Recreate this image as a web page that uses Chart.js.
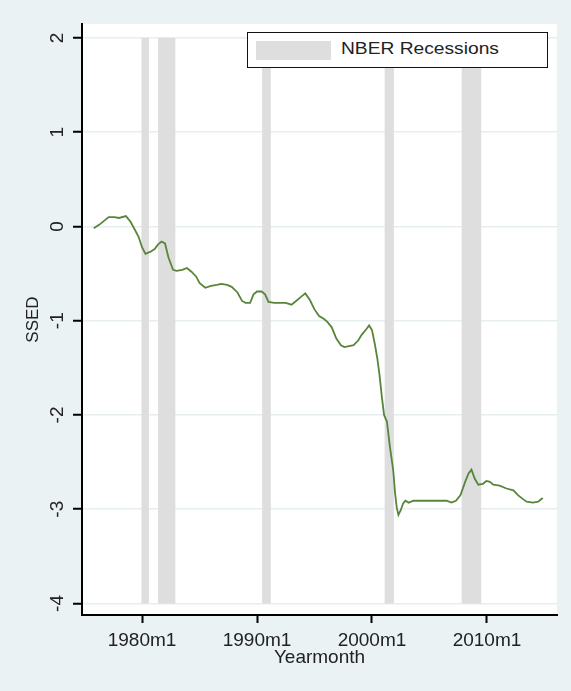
<!DOCTYPE html>
<html>
<head>
<meta charset="utf-8">
<script src="https://cdn.jsdelivr.net/npm/chart.js@4/dist/chart.umd.min.js"></script>
<style>
  html, body { margin: 0; padding: 0; background: #eaf2f3; }
  #wrap { position: relative; width: 571px; height: 691px; }
  #legend {
    position: absolute; left: 247px; top: 32px; width: 301px; height: 36px;
    box-sizing: border-box; border: 1.5px solid #111; background: #fff;
  }
  #legend .swatch {
    position: absolute; left: 8px; top: 8px; width: 75px; height: 19px; background: #dedede;
  }
  #legend .label {
    position: absolute; left: 93px; top: 7px; line-height: 20px; white-space: nowrap;
    font: 16px "Liberation Sans", Arial, sans-serif; color: #222;
    transform: scaleX(1.2); transform-origin: left center;
  }
</style>
</head>
<body>
<div id="wrap">
  <canvas id="chart" width="571" height="691"></canvas>
  <div id="legend"><span class="swatch"></span><span class="label">NBER Recessions</span></div>
</div>
<script>
'use strict';

const FONT = '"Liberation Sans", Arial, sans-serif';

const xTicks      = [1980, 1990, 2000, 2010];
const xTickLabels = ['1980m1', '1990m1', '2000m1', '2010m1'];
const yTicks      = [-4, -3, -2, -1, 0, 1, 2];
const yTickLabels = ['-4', '-3', '-2', '-1', '0', '1', '2'];

// NBER recession spans (decimal years)
const recessionStart = [1979.95, 1981.4, 1990.45, 2001.1, 2007.8];
const recessionEnd   = [1980.6, 1982.9, 1991.2, 2001.9, 2009.5];

// SSED series (decimal year, value)
const months = [
  1975.8, 1976.3, 1976.8, 1977.1, 1977.6, 1978.0, 1978.6, 1979.0, 1979.4, 1979.7,
  1980.0, 1980.3, 1980.7, 1981.1, 1981.4, 1981.7, 1982.0, 1982.3, 1982.7, 1983.0,
  1983.5, 1983.9, 1984.3, 1984.7, 1985.0, 1985.5, 1986.0, 1986.5, 1986.9, 1987.4,
  1987.8, 1988.3, 1988.7, 1989.0, 1989.4, 1989.7, 1990.0, 1990.4, 1990.7, 1991.0,
  1991.5, 1992.0, 1992.5, 1993.0, 1993.4, 1993.8, 1994.2, 1994.6, 1995.0, 1995.4,
  1995.8, 1996.1, 1996.5, 1996.9, 1997.3, 1997.6, 1998.0, 1998.4, 1998.8, 1999.1,
  1999.5, 1999.75, 2000.0, 2000.25, 2000.45, 2000.65, 2000.85, 2001.05, 2001.3, 2001.55,
  2001.85, 2002.0, 2002.15, 2002.3, 2002.5, 2002.7, 2002.9, 2003.2, 2003.6, 2004.5,
  2005.5, 2006.5, 2006.9, 2007.3, 2007.7, 2008.1, 2008.4, 2008.65, 2008.95, 2009.25,
  2009.65, 2009.95, 2010.25, 2010.55, 2011.1, 2011.7, 2012.3, 2012.7, 2013.1, 2013.45,
  2014.0, 2014.45, 2014.85,
];
const ssed = [
  -0.02, 0.02, 0.07, 0.10, 0.10, 0.09, 0.11, 0.05, -0.04, -0.11,
  -0.22, -0.29, -0.27, -0.24, -0.19, -0.16, -0.18, -0.33, -0.46, -0.47,
  -0.46, -0.44, -0.48, -0.53, -0.60, -0.65, -0.63, -0.62, -0.61, -0.62,
  -0.64, -0.70, -0.79, -0.81, -0.81, -0.72, -0.69, -0.69, -0.72, -0.80,
  -0.81, -0.81, -0.81, -0.83, -0.79, -0.75, -0.71, -0.78, -0.88, -0.95,
  -0.98, -1.01, -1.07, -1.19, -1.26, -1.28, -1.27, -1.26, -1.21, -1.15,
  -1.09, -1.05, -1.10, -1.25, -1.39, -1.57, -1.80, -2.00, -2.07, -2.33,
  -2.59, -2.82, -2.98, -3.06, -3.01, -2.94, -2.91, -2.93, -2.91, -2.91,
  -2.91, -2.91, -2.93, -2.91, -2.85, -2.71, -2.62, -2.58, -2.68, -2.74,
  -2.73, -2.70, -2.71, -2.74, -2.75, -2.78, -2.80, -2.85, -2.89, -2.92,
  -2.93, -2.92, -2.88,
];

const plotBackground = {
  id: 'plotBackground',
  beforeDraw(chart) {
    const { ctx, chartArea: a } = chart;
    ctx.save();
    ctx.fillStyle = '#ffffff';
    ctx.fillRect(a.left, a.top, a.right - a.left, a.bottom - a.top);
    ctx.restore();
  },
};

const recessionBands = {
  id: 'recessionBands',
  beforeDatasetsDraw(chart) {
    const { ctx, scales: { x, y } } = chart;
    const top    = y.getPixelForValue(yTicks[yTicks.length - 1]);
    const bottom = y.getPixelForValue(yTicks[0]);
    ctx.save();
    ctx.fillStyle = '#dedede';
    recessionStart.forEach((s, i) => {
      const l = x.getPixelForValue(s);
      const r = x.getPixelForValue(recessionEnd[i]);
      ctx.fillRect(l, top, r - l, bottom - top);
    });
    ctx.restore();
  },
};

// Stata prints the y labels turned on their side
const yTickText = {
  id: 'yTickText',
  afterDraw(chart) {
    const { ctx, scales: { y } } = chart;
    ctx.save();
    ctx.fillStyle = '#222';
    ctx.font = `19px ${FONT}`;
    ctx.textAlign = 'center';
    ctx.textBaseline = 'alphabetic';
    yTicks.forEach((v, i) => {
      ctx.save();
      ctx.translate(y.right - 19, y.getPixelForValue(v));
      ctx.rotate(-Math.PI / 2);
      ctx.fillText(yTickLabels[i], 0, 0);
      ctx.restore();
    });
    ctx.restore();
  },
};

new Chart(document.getElementById('chart'), {
  type: 'line',
  data: {
    datasets: [{
      data: months.map((m, i) => ({ x: m, y: ssed[i] })),
      borderColor: '#58853a',
      borderWidth: 1.8,
      pointRadius: 0,
      tension: 0,
      fill: false,
    }],
  },
  options: {
    responsive: false,
    animation: false,
    layout: { padding: { top: 24, right: 14, left: 0, bottom: 0 } },
    plugins: { legend: { display: false }, tooltip: { enabled: false } },
    scales: {
      x: {
        type: 'linear',
        min: 1974.78,
        max: 2016.09,
        afterBuildTicks: s => { s.ticks = xTicks.map(v => ({ value: v })); },
        afterFit: s => { s.height = 76; },
        grid: { drawOnChartArea: false, drawTicks: true, tickLength: 8, tickColor: '#000', tickWidth: 2 },
        border: { color: '#000', width: 2 },
        ticks: {
          callback: v => xTickLabels[xTicks.indexOf(v)],
          color: '#222', font: { size: 19, family: FONT },
          padding: 6, maxRotation: 0, autoSkip: false,
        },
        title: {
          display: true, text: 'Yearmonth', color: '#222',
          font: { size: 19, family: FONT }, padding: { top: 0, bottom: 22 },
        },
      },
      y: {
        type: 'linear',
        min: -4.122,
        max: 2.148,
        afterBuildTicks: s => { s.ticks = yTicks.map(v => ({ value: v })); },
        afterFit: s => { s.width = 82; },
        grid: { color: '#e6eef0', lineWidth: 1.5, tickColor: '#000', tickLength: 9, tickWidth: 2 },
        border: { color: '#000', width: 2 },
        ticks: { display: false },
        title: {
          display: true, text: 'SSED', color: '#222',
          font: { size: 17, family: FONT }, padding: { top: 23, bottom: 0 },
        },
      },
    },
  },
  plugins: [plotBackground, recessionBands, yTickText],
});
</script>
</body>
</html>
